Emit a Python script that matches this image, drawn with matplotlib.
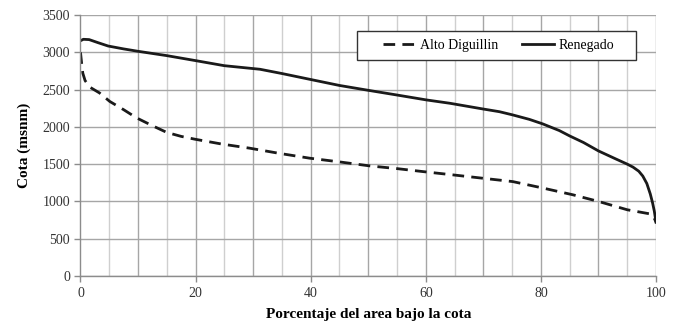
import matplotlib
matplotlib.use("Agg")
import matplotlib.pyplot as plt
from matplotlib.patches import Rectangle
from matplotlib.ticker import MultipleLocator

# Hypsometric curves: elevation vs. percentage of basin area below it
pct_alto = [0, 0.2, 0.4, 0.8, 1.65, 3.3, 5.1, 7.5, 9.75, 12.5, 15, 17.5, 19.9,
            24.5, 29.4, 34.5, 39.8, 45, 50.3, 55, 59.5, 64.7, 70, 75.1, 80.3,
            85.5, 90, 95, 98.8, 99.6, 100]
cota_alto = [3000, 2850, 2720, 2620, 2531, 2455, 2340, 2230, 2120, 2015, 1925,
             1872, 1834, 1770, 1714, 1645, 1580, 1530, 1476, 1440, 1400, 1356,
             1310, 1266, 1180, 1090, 1000, 888, 835, 790, 722]

pct_ren = [0, 0.5, 1.5, 3, 4.8, 7.5, 10, 15, 20, 25, 31.2, 35, 39.8, 45, 50,
           54.9, 60.1, 64.2, 69.9, 72.8, 75.1, 78, 80.3, 83.2, 85, 87.4, 90,
           93, 95, 96, 97, 97.7, 98.4, 99, 99.4, 99.7, 100]
cota_ren = [3155, 3174, 3170, 3130, 3084, 3045, 3013, 2955, 2888, 2820, 2772,
            2715, 2638, 2555, 2490, 2428, 2361, 2316, 2240, 2203, 2160, 2100,
            2040, 1950, 1878, 1790, 1677, 1570, 1500, 1460, 1405, 1340, 1240,
            1100, 980, 870, 720]

plt.rcParams["font.family"] = ["Liberation Serif", "DejaVu Serif"]

W, H = 673, 323
fig = plt.figure(figsize=(W / 100, H / 100), dpi=100)
ax = fig.add_axes([0.1196, 0.1455, 0.8552, 0.8081])

ax.plot(pct_alto, cota_alto, color="#1a1a1a", lw=2.0, ls=(0, (4.2, 2.6)),
        label="Alto Diguillin")
ax.plot(pct_ren, cota_ren, color="#1a1a1a", lw=2.0, label="Renegado")

ax.set_xlim(0, 100)
ax.set_ylim(0, 3500)
ax.xaxis.set_major_locator(MultipleLocator(20))
ax.xaxis.set_minor_locator(MultipleLocator(5))
ax.yaxis.set_major_locator(MultipleLocator(500))

# grid: darker every 10 %, lighter at the 5 % steps
for xv in range(5, 100, 5):
    c = "#a6a6a6" if xv % 10 == 0 else "#cfcfcf"
    ax.axvline(xv, color=c, lw=1.0, zorder=0)
ax.yaxis.grid(True, color="#a6a6a6", lw=1.0, zorder=0)
ax.axvline(100, color="#a6a6a6", lw=1.0, zorder=0)

for s in ("top", "right"):
    ax.spines[s].set_visible(False)
for s in ("left", "bottom"):
    ax.spines[s].set_color("#8c8c8c")
    ax.spines[s].set_linewidth(1.0)

ax.tick_params(axis="both", which="major", length=4, width=1.0,
               color="#8c8c8c", labelsize=10, labelcolor="#333333")
ax.tick_params(axis="x", which="minor", length=0)
ax.tick_params(axis="x", pad=4)

ax.set_xlabel("Porcentaje del area bajo la cota", fontsize=11,
              fontweight="bold", labelpad=6)
ax.set_ylabel("Cota (msnm)", fontsize=11, fontweight="bold", labelpad=8)

# legend entries without their own frame; the box is drawn separately
leg = fig.legend(loc="center left", bbox_to_anchor=(383 / W, 1 - 45.5 / H),
                 ncol=2, frameon=False, fontsize=10, handlelength=2.3,
                 columnspacing=1.7, borderpad=0, borderaxespad=0,
                 handletextpad=0.35)
box = Rectangle((357 / W, 1 - 60 / H), (636 - 357) / W, 29 / H,
                transform=fig.transFigure, facecolor="white",
                edgecolor="#333333", lw=1.0, zorder=3)
fig.patches.append(box)
leg.set_zorder(4)

fig.savefig("out.png", dpi=100)
